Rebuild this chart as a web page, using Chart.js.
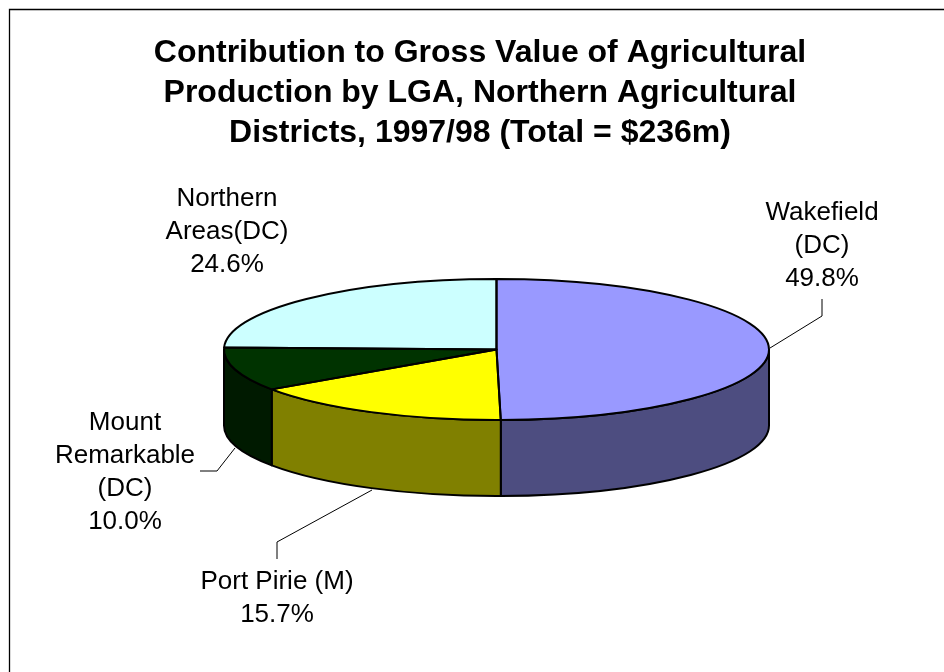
<!DOCTYPE html>
<html>
<head>
<meta charset="utf-8">
<script src="https://cdn.jsdelivr.net/npm/chart.js@4.4.1/dist/chart.umd.min.js"></script>
<style>
  html, body { margin: 0; padding: 0; background: #fff; }
  canvas { display: block; }
</style>
</head>
<body>
<canvas id="pieChart" width="944" height="672"></canvas>
<script>
// #### Data
const regions = ['Wakefield (DC)', 'Port Pirie (M)', 'Mount Remarkable (DC)', 'Northern Areas(DC)'];
const regionLines = [['Wakefield', '(DC)'], ['Port Pirie (M)'], ['Mount', 'Remarkable', '(DC)'], ['Northern', 'Areas(DC)']];
const shares = [49.8, 15.7, 10.0, 24.6];
const titleLines = [
    'Contribution to Gross Value of Agricultural',
    'Production by LGA, Northern Agricultural',
    'Districts, 1997/98 (Total = $236m)'
];

// #### Styles
const topColors = ['#9999FF', '#FFFF00', '#003300', '#CCFFFF'];
const sideColors = ['#4D4D80', '#808000', '#001A00', '#668080'];
const FLAT = 70.5 / 272.5; // vertical squash of the pie top
const DEPTH = 76;          // height of the pie wall
const labelFont = '26px "Liberation Sans", Arial, sans-serif';
const labelAnchors = [
    { x: 822, y: 220 },
    { x: 277, y: 589 },
    { x: 125, y: 430 },
    { x: 227, y: 206 }
];
const leaders = [
    [[770, 348], [822, 316], [822, 299]],
    [[372, 490], [277, 542], [277, 559]],
    [[235, 448], [217, 471], [200, 471]],
    null
];

// parts of an arc that lie on the front half (0..PI), where the wall shows
function frontRanges(a0, a1) {
    const out = [];
    for (const off of [-2 * Math.PI, 0, 2 * Math.PI]) {
        const a = Math.max(a0, off);
        const b = Math.min(a1, off + Math.PI);
        if (b > a) out.push([a, b]);
    }
    return out;
}

const pie3d = {
    id: 'pie3d',
    beforeDraw(chart) {
        const ctx = chart.ctx;
        ctx.save();
        ctx.fillStyle = '#fff';
        ctx.fillRect(0, 0, chart.width, chart.height);
        ctx.strokeStyle = '#000';
        ctx.lineWidth = 1.3;
        ctx.beginPath();
        ctx.moveTo(9.5, chart.height + 5);
        ctx.lineTo(9.5, 9.5);
        ctx.lineTo(chart.width + 5, 9.5);
        ctx.stroke();
        ctx.restore();
    },
    beforeDatasetsDraw(chart) {
        const ctx = chart.ctx;
        const arcs = chart.getDatasetMeta(0).data;
        ctx.save();
        ctx.strokeStyle = '#000';
        ctx.lineWidth = 2;
        ctx.lineJoin = 'round';
        arcs.forEach((arc, i) => {
            const { x, y, outerRadius: r, startAngle, endAngle } = arc;
            const ry = r * FLAT;
            frontRanges(startAngle, endAngle).forEach(([a, b]) => {
                ctx.beginPath();
                ctx.ellipse(x, y, r, ry, 0, a, b, false);
                ctx.lineTo(x + r * Math.cos(b), y + ry * Math.sin(b) + DEPTH);
                ctx.ellipse(x, y + DEPTH, r, ry, 0, b, a, true);
                ctx.closePath();
                ctx.fillStyle = sideColors[i];
                ctx.fill();
                ctx.stroke();
            });
        });
        ctx.restore();
        // squash the pie top drawn by Chart.js into an ellipse
        const c = arcs[0];
        ctx.save();
        ctx.translate(c.x, c.y);
        ctx.scale(1, FLAT);
        ctx.translate(-c.x, -c.y);
    },
    afterDatasetsDraw(chart) {
        const ctx = chart.ctx;
        ctx.restore();
        const arcs = chart.getDatasetMeta(0).data;
        ctx.save();
        ctx.strokeStyle = '#000';
        ctx.lineWidth = 2;
        ctx.lineJoin = 'round';
        arcs.forEach(arc => {
            const { x, y, outerRadius: r, startAngle, endAngle } = arc;
            ctx.beginPath();
            ctx.moveTo(x, y);
            ctx.ellipse(x, y, r, r * FLAT, 0, startAngle, endAngle, false);
            ctx.closePath();
            ctx.stroke();
        });

        // leader lines
        ctx.lineWidth = 1;
        leaders.forEach(pts => {
            if (!pts) return;
            ctx.beginPath();
            ctx.moveTo(pts[0][0], pts[0][1]);
            pts.slice(1).forEach(p => ctx.lineTo(p[0], p[1]));
            ctx.stroke();
        });

        // data labels
        ctx.fillStyle = '#000';
        ctx.font = labelFont;
        ctx.textAlign = 'center';
        ctx.textBaseline = 'alphabetic';
        const data = chart.data.datasets[0].data;
        regionLines.forEach((lines, i) => {
            const all = lines.concat([data[i].toFixed(1) + '%']);
            all.forEach((t, k) => ctx.fillText(t, labelAnchors[i].x, labelAnchors[i].y + k * 33));
        });
        ctx.restore();
    },
    afterDraw(chart) {
        const ctx = chart.ctx;
        ctx.save();
        ctx.fillStyle = '#000';
        ctx.font = 'bold 32px "Liberation Sans", Arial, sans-serif';
        ctx.textAlign = 'center';
        titleLines.forEach((t, k) => ctx.fillText(t, 480, 62 + k * 40));
        ctx.restore();
    }
};

// #### Chart
const pieChart = new Chart(document.getElementById('pieChart').getContext('2d'), {
    type: 'pie',
    data: {
        labels: regions,
        datasets: [{
            data: shares,
            backgroundColor: topColors,
            borderWidth: 0,
            clip: false
        }]
    },
    options: {
        responsive: false,
        animation: false,
        devicePixelRatio: 1,
        events: [],
        layout: { padding: { left: 224, right: 175, top: 77, bottom: 50 } },
        plugins: {
            legend: { display: false },
            tooltip: { enabled: false },
            title: { display: false }
        }
    },
    plugins: [pie3d]
});
</script>
</body>
</html>
